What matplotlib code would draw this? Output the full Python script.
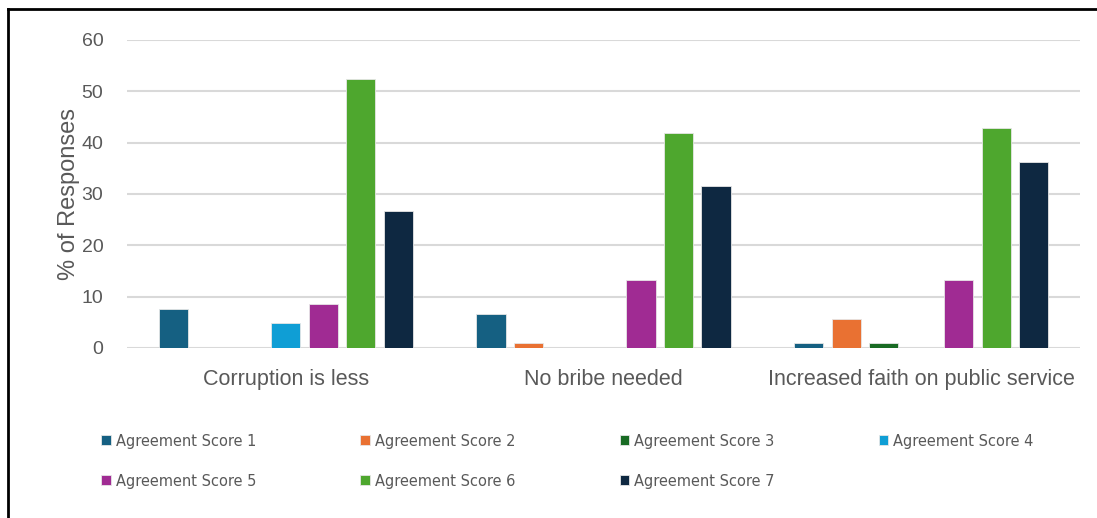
import numpy as np
import matplotlib.pyplot as plt
from matplotlib.lines import Line2D
from matplotlib import font_manager

# data (% of responses)
categories = ['Corruption is less', 'No bribe needed', 'Increased faith on public service']
series_names = ['Agreement Score 1', 'Agreement Score 2', 'Agreement Score 3', 'Agreement Score 4',
                'Agreement Score 5', 'Agreement Score 6', 'Agreement Score 7']
score1 = [7.6, 6.7, 1.0]
score2 = [0.0, 1.0, 5.7]
score3 = [0.0, 0.0, 1.0]
score4 = [4.8, 0.0, 0.0]
score5 = [8.6, 13.3, 13.3]
score6 = [52.4, 41.9, 42.9]
score7 = [26.7, 31.6, 36.2]
values = [score1, score2, score3, score4, score5, score6, score7]

colors = ['#156082', '#E97132', '#196B24', '#0F9ED5', '#A02B93', '#4EA72E', '#0E2841']

plt.rcParams['font.family'] = ['Liberation Sans', 'DejaVu Sans']

# narrow font for the legend, if there is one
try:
    font_manager.findfont(font_manager.FontProperties(family='Liberation Sans Narrow'),
                          fallback_to_default=False)
    leg_prop = {'family': 'Liberation Sans Narrow', 'size': 13.6}
except Exception:
    leg_prop = {'family': 'DejaVu Sans', 'stretch': 'condensed', 'size': 11.7}

fig = plt.figure(figsize=(10.97, 5.18), dpi=100)
ax = fig.add_axes([0.1158, 0.3282, 0.8687, 0.5946])

x = np.arange(len(categories))
pitch = 0.118
width = 0.092
bars = []
for i in range(len(values)):
    offs = (i - 3) * pitch
    b = ax.bar(x + offs, values[i], width, color=colors[i], edgecolor='#e6e6e6',
               linewidth=0.6, label=series_names[i], zorder=3)
    bars.append(b)

ax.set_xlim(-0.5, 2.5)
ax.set_ylim(0, 60)
ax.set_yticks(range(0, 61, 10))
ax.yaxis.grid(True, color='#d9d9d9', linewidth=1.5, zorder=0)
for s in ax.spines.values():
    s.set_visible(False)
ax.tick_params(axis='both', length=0, colors='#595959')
ax.tick_params(axis='y', labelsize=14, pad=17)
ax.set_xticks(x)
ax.set_xticklabels(categories, fontsize=15.5, color='#595959')
ax.tick_params(axis='x', pad=15)
ax.set_ylabel('% of Responses', fontsize=17, color='#595959', labelpad=1)

# legend filled row by row (4 columns)
order = [0, 4, 1, 5, 2, 6, 3]
leg = fig.legend([bars[i] for i in order], [series_names[i] for i in order],
                 loc='upper left', bbox_to_anchor=(0.0865, 0.175), ncol=4, frameon=False,
                 prop=leg_prop, handlelength=0.6, handleheight=0.6, handletextpad=0.3,
                 columnspacing=6.4, labelspacing=1.55, borderaxespad=0)
for t in leg.get_texts():
    t.set_color('#595959')

# border (top and left edges visible in the reference)
fig.add_artist(Line2D([0.0073, 0.0073], [0, 0.983], transform=fig.transFigure, color='black', lw=2))
fig.add_artist(Line2D([0.0073, 1.0], [0.983, 0.983], transform=fig.transFigure, color='black', lw=2))

plt.savefig('out.png', dpi=100)
